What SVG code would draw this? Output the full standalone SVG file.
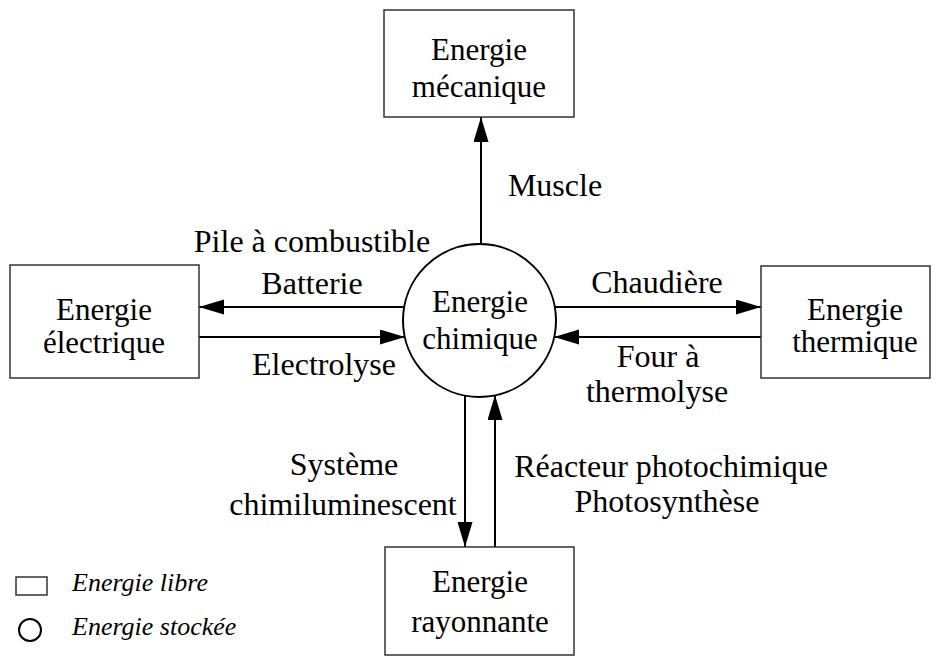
<svg xmlns="http://www.w3.org/2000/svg" width="938" height="657" viewBox="0 0 938 657">
<style>
.box{fill:#fff;stroke:#333;stroke-width:1.5}
.circ{fill:#fff;stroke:#000;stroke-width:2}
text{font-family:'Liberation Serif','Times New Roman',Tinos,serif;fill:#000}
.t{font-size:31px;text-anchor:middle}
.lbl{font-size:32px;text-anchor:middle}
.leg{font-size:26px;font-style:italic}
.ln{stroke:#000;stroke-width:2;fill:none;marker-end:url(#ah)}
</style>
<defs>
<marker id="ah" markerUnits="userSpaceOnUse" markerWidth="26" markerHeight="16" refX="25" refY="7.5" orient="auto">
<path d="M0,0 L25,7.5 L0,15 Z" fill="#000"/>
</marker>
</defs>
<rect width="938" height="657" fill="#fff"/>
<g id="connectors">
<line class="ln" x1="481" y1="244" x2="481" y2="117"/>
<line class="ln" x1="404" y1="307" x2="199" y2="307"/>
<line class="ln" x1="199" y1="337" x2="405" y2="337"/>
<line class="ln" x1="555" y1="307" x2="761" y2="307"/>
<line class="ln" x1="761" y1="337" x2="554" y2="337"/>
<line class="ln" x1="465" y1="396" x2="465" y2="547"/>
<line class="ln" x1="495" y1="547" x2="495" y2="395"/>
</g>
<g id="node-mecanique">
<rect class="box" x="384" y="10" width="190" height="107"/>
<text class="t" x="479" y="60">Energie</text>
<text class="t" x="479" y="97">mécanique</text>
</g>
<g id="node-electrique">
<rect class="box" x="10" y="265" width="189" height="113"/>
<text class="t" x="104" y="320">Energie</text>
<text class="t" x="104" y="353">électrique</text>
</g>
<g id="node-thermique">
<rect class="box" x="761" y="266" width="169" height="112"/>
<text class="t" x="855" y="320">Energie</text>
<text class="t" x="855" y="352">thermique</text>
</g>
<g id="node-rayonnante">
<rect class="box" x="385" y="547" width="189" height="108"/>
<text class="t" x="480" y="592">Energie</text>
<text class="t" x="480" y="632">rayonnante</text>
</g>
<g id="node-chimique">
<circle class="circ" cx="479.5" cy="320.5" r="76.5"/>
<text class="t" x="480" y="312">Energie</text>
<text class="t" x="480" y="349">chimique</text>
</g>
<g id="labels">
<text class="lbl" x="555" y="196">Muscle</text>
<text class="lbl" x="312" y="252">Pile à combustible</text>
<text class="lbl" x="312" y="294">Batterie</text>
<text class="lbl" x="324" y="375">Electrolyse</text>
<text class="lbl" x="657" y="293">Chaudière</text>
<text class="lbl" x="658" y="367">Four à</text>
<text class="lbl" x="657" y="402">thermolyse</text>
<text class="lbl" x="344" y="475">Système</text>
<text class="lbl" x="343" y="515">chimiluminescent</text>
<text class="lbl" x="671" y="477">Réacteur photochimique</text>
<text class="lbl" x="667" y="512">Photosynthèse</text>
</g>
<g id="legend">
<rect class="box" x="16" y="577" width="31" height="18"/>
<text class="leg" x="72" y="591">Energie libre</text>
<circle class="circ" cx="30" cy="630" r="11"/>
<text class="leg" x="72" y="635">Energie stockée</text>
</g>
</svg>
